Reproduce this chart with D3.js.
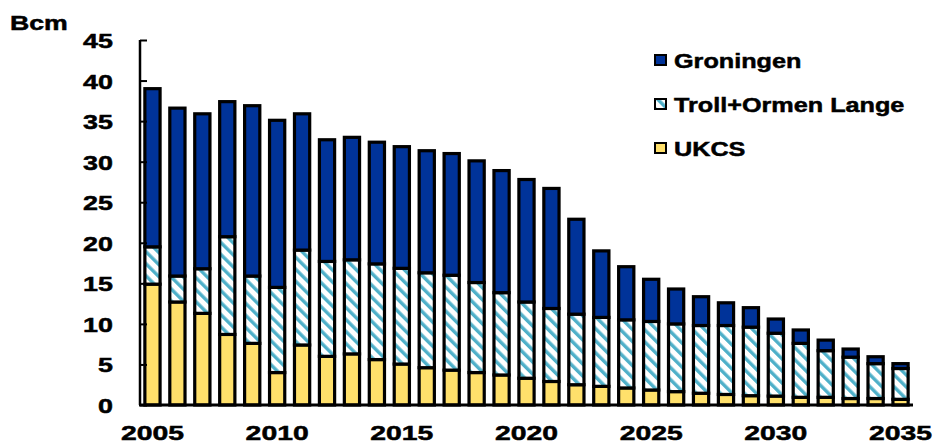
<!DOCTYPE html>
<html>
<head>
<meta charset="utf-8">
<title>Gas supply</title>
<script src="https://cdn.jsdelivr.net/npm/d3@7"></script>
<style>
  body { margin: 0; background: #fff; }
  text { font-family: "Liberation Sans", Arial, sans-serif; font-weight: bold; fill: #000; stroke: #000; stroke-width: 0.5px; }
</style>
</head>
<body>
<script>
// data (Bcm)
var years = d3.range(2005, 2036);
var ukcs = [14.9, 12.7, 11.3, 8.7, 7.6, 4.0, 7.4, 6.0, 6.3, 5.6, 5.05, 4.6, 4.3, 4.0, 3.7, 3.3,
            2.9, 2.5, 2.3, 2.1, 1.85, 1.65, 1.45, 1.3, 1.15, 1.1, 0.95, 0.95, 0.8, 0.8, 0.7];
var troll = [4.6, 3.2, 5.5, 12.05, 8.3, 10.5, 11.7, 11.7, 11.6, 11.8, 11.8, 11.7, 11.7, 11.1, 10.15, 9.4,
             9.0, 8.7, 8.5, 8.4, 8.45, 8.35, 8.35, 8.5, 8.45, 7.75, 6.65, 5.75, 5.1, 4.3, 3.8];
var groningen = [19.5, 20.7, 19.1, 16.65, 21.0, 20.6, 16.8, 15.0, 15.1, 15.0, 15.0, 15.05, 15.0, 15.0, 15.05, 15.1,
                 14.8, 11.7, 8.2, 6.55, 5.2, 4.3, 3.55, 2.8, 2.4, 1.75, 1.65, 1.3, 1.0, 0.85, 0.6];
var yTicks = [0, 5, 10, 15, 20, 25, 30, 35, 40, 45];
var xLabels = [2005, 2010, 2015, 2020, 2025, 2030, 2035];
var seriesNames = ["UKCS", "Troll+Ormen Lange", "Groningen"];
var legendOrder = ["Groningen", "Troll+Ormen Lange", "UKCS"];

var W = 934, H = 443;
var plotL = 140, plotR = 913, plotT = 40, plotB = 405;

var svg = d3.select("body").append("svg")
    .attr("width", W)
    .attr("height", H);

// diagonal hatch for Troll+Ormen Lange
var defs = svg.append("defs");
var pat = defs.append("pattern")
    .attr("id", "hatch")
    .attr("patternUnits", "userSpaceOnUse")
    .attr("width", 8.5)
    .attr("height", 8.5)
    .attr("patternTransform", "rotate(-45)");
pat.append("rect").attr("width", 8.5).attr("height", 8.5).attr("fill", "#fff");
pat.append("rect").attr("x", 0).attr("width", 3.4).attr("height", 8.5).attr("fill", "#4fb0c9");

var colors = {
    "UKCS": "#ffe06b",
    "Troll+Ormen Lange": "url(#hatch)",
    "Groningen": "#003399"
};

var table = years.map(function(yr, i) {
    return { year: yr, "UKCS": ukcs[i], "Troll+Ormen Lange": troll[i], "Groningen": groningen[i] };
});

var x = d3.scaleBand().domain(years).range([plotL, plotR]).paddingInner(0.39).paddingOuter(0.195);
var y = d3.scaleLinear().domain([0, 45]).range([plotB, plotT]);

var stacked = d3.stack().keys(seriesNames)(table);

svg.append("g").selectAll("g")
    .data(stacked)
    .join("g")
    .attr("fill", function(d) { return colors[d.key]; })
    .selectAll("rect")
    .data(function(d) { return d; })
    .join("rect")
    .attr("x", function(d) { return x(d.data.year); })
    .attr("y", function(d) { return y(d[1]); })
    .attr("width", x.bandwidth())
    .attr("height", function(d) { return y(d[0]) - y(d[1]); })
    .attr("stroke", "#000")
    .attr("stroke-width", 3.2);

// stretch text horizontally like the original
function stretch(sel, k) {
    sel.each(function() {
        var w = this.getComputedTextLength();
        d3.select(this).attr("textLength", w * k).attr("lengthAdjust", "spacingAndGlyphs");
    });
}

// y axis
var yAxis = svg.append("g")
    .attr("transform", "translate(" + plotL + ",0)")
    .call(d3.axisRight(y).tickValues(yTicks).tickSize(7).tickFormat(""));
yAxis.select(".domain").attr("stroke", "#000").attr("stroke-width", 2.5)
    .attr("d", "M0," + plotT + "V" + plotB);
yAxis.selectAll(".tick line").attr("stroke", "#000").attr("stroke-width", 2);

svg.append("g").selectAll("text")
    .data(yTicks)
    .join("text")
    .attr("x", 113)
    .attr("y", function(d) { return y(d) + 8; })
    .attr("text-anchor", "end")
    .attr("font-size", 21)
    .text(function(d) { return d; })
    .call(stretch, 1.28);

// x axis line
svg.append("line")
    .attr("x1", plotL - 1).attr("x2", plotR)
    .attr("y1", plotB).attr("y2", plotB)
    .attr("stroke", "#000").attr("stroke-width", 3);

svg.append("g").selectAll("text")
    .data(xLabels)
    .join("text")
    .attr("x", function(d) { return x(d) + x.bandwidth() / 2; })
    .attr("y", 440)
    .attr("text-anchor", "middle")
    .attr("font-size", 21)
    .text(function(d) { return d; })
    .call(stretch, 1.35);

// unit
svg.append("text")
    .attr("x", 10).attr("y", 30)
    .attr("font-size", 21)
    .text("Bcm")
    .call(stretch, 1.27);

// legend
var leg = svg.append("g").selectAll("g")
    .data(legendOrder)
    .join("g")
    .attr("transform", function(d, i) { return "translate(655," + (55 + i * 44) + ")"; });
leg.append("rect")
    .attr("width", 11).attr("height", 10)
    .attr("fill", function(d) { return colors[d]; })
    .attr("stroke", "#000").attr("stroke-width", 2);
leg.append("text")
    .attr("x", 19).attr("y", 13)
    .attr("font-size", 21)
    .text(function(d) { return d; })
    .call(stretch, 1.2);
</script>
</body>
</html>
